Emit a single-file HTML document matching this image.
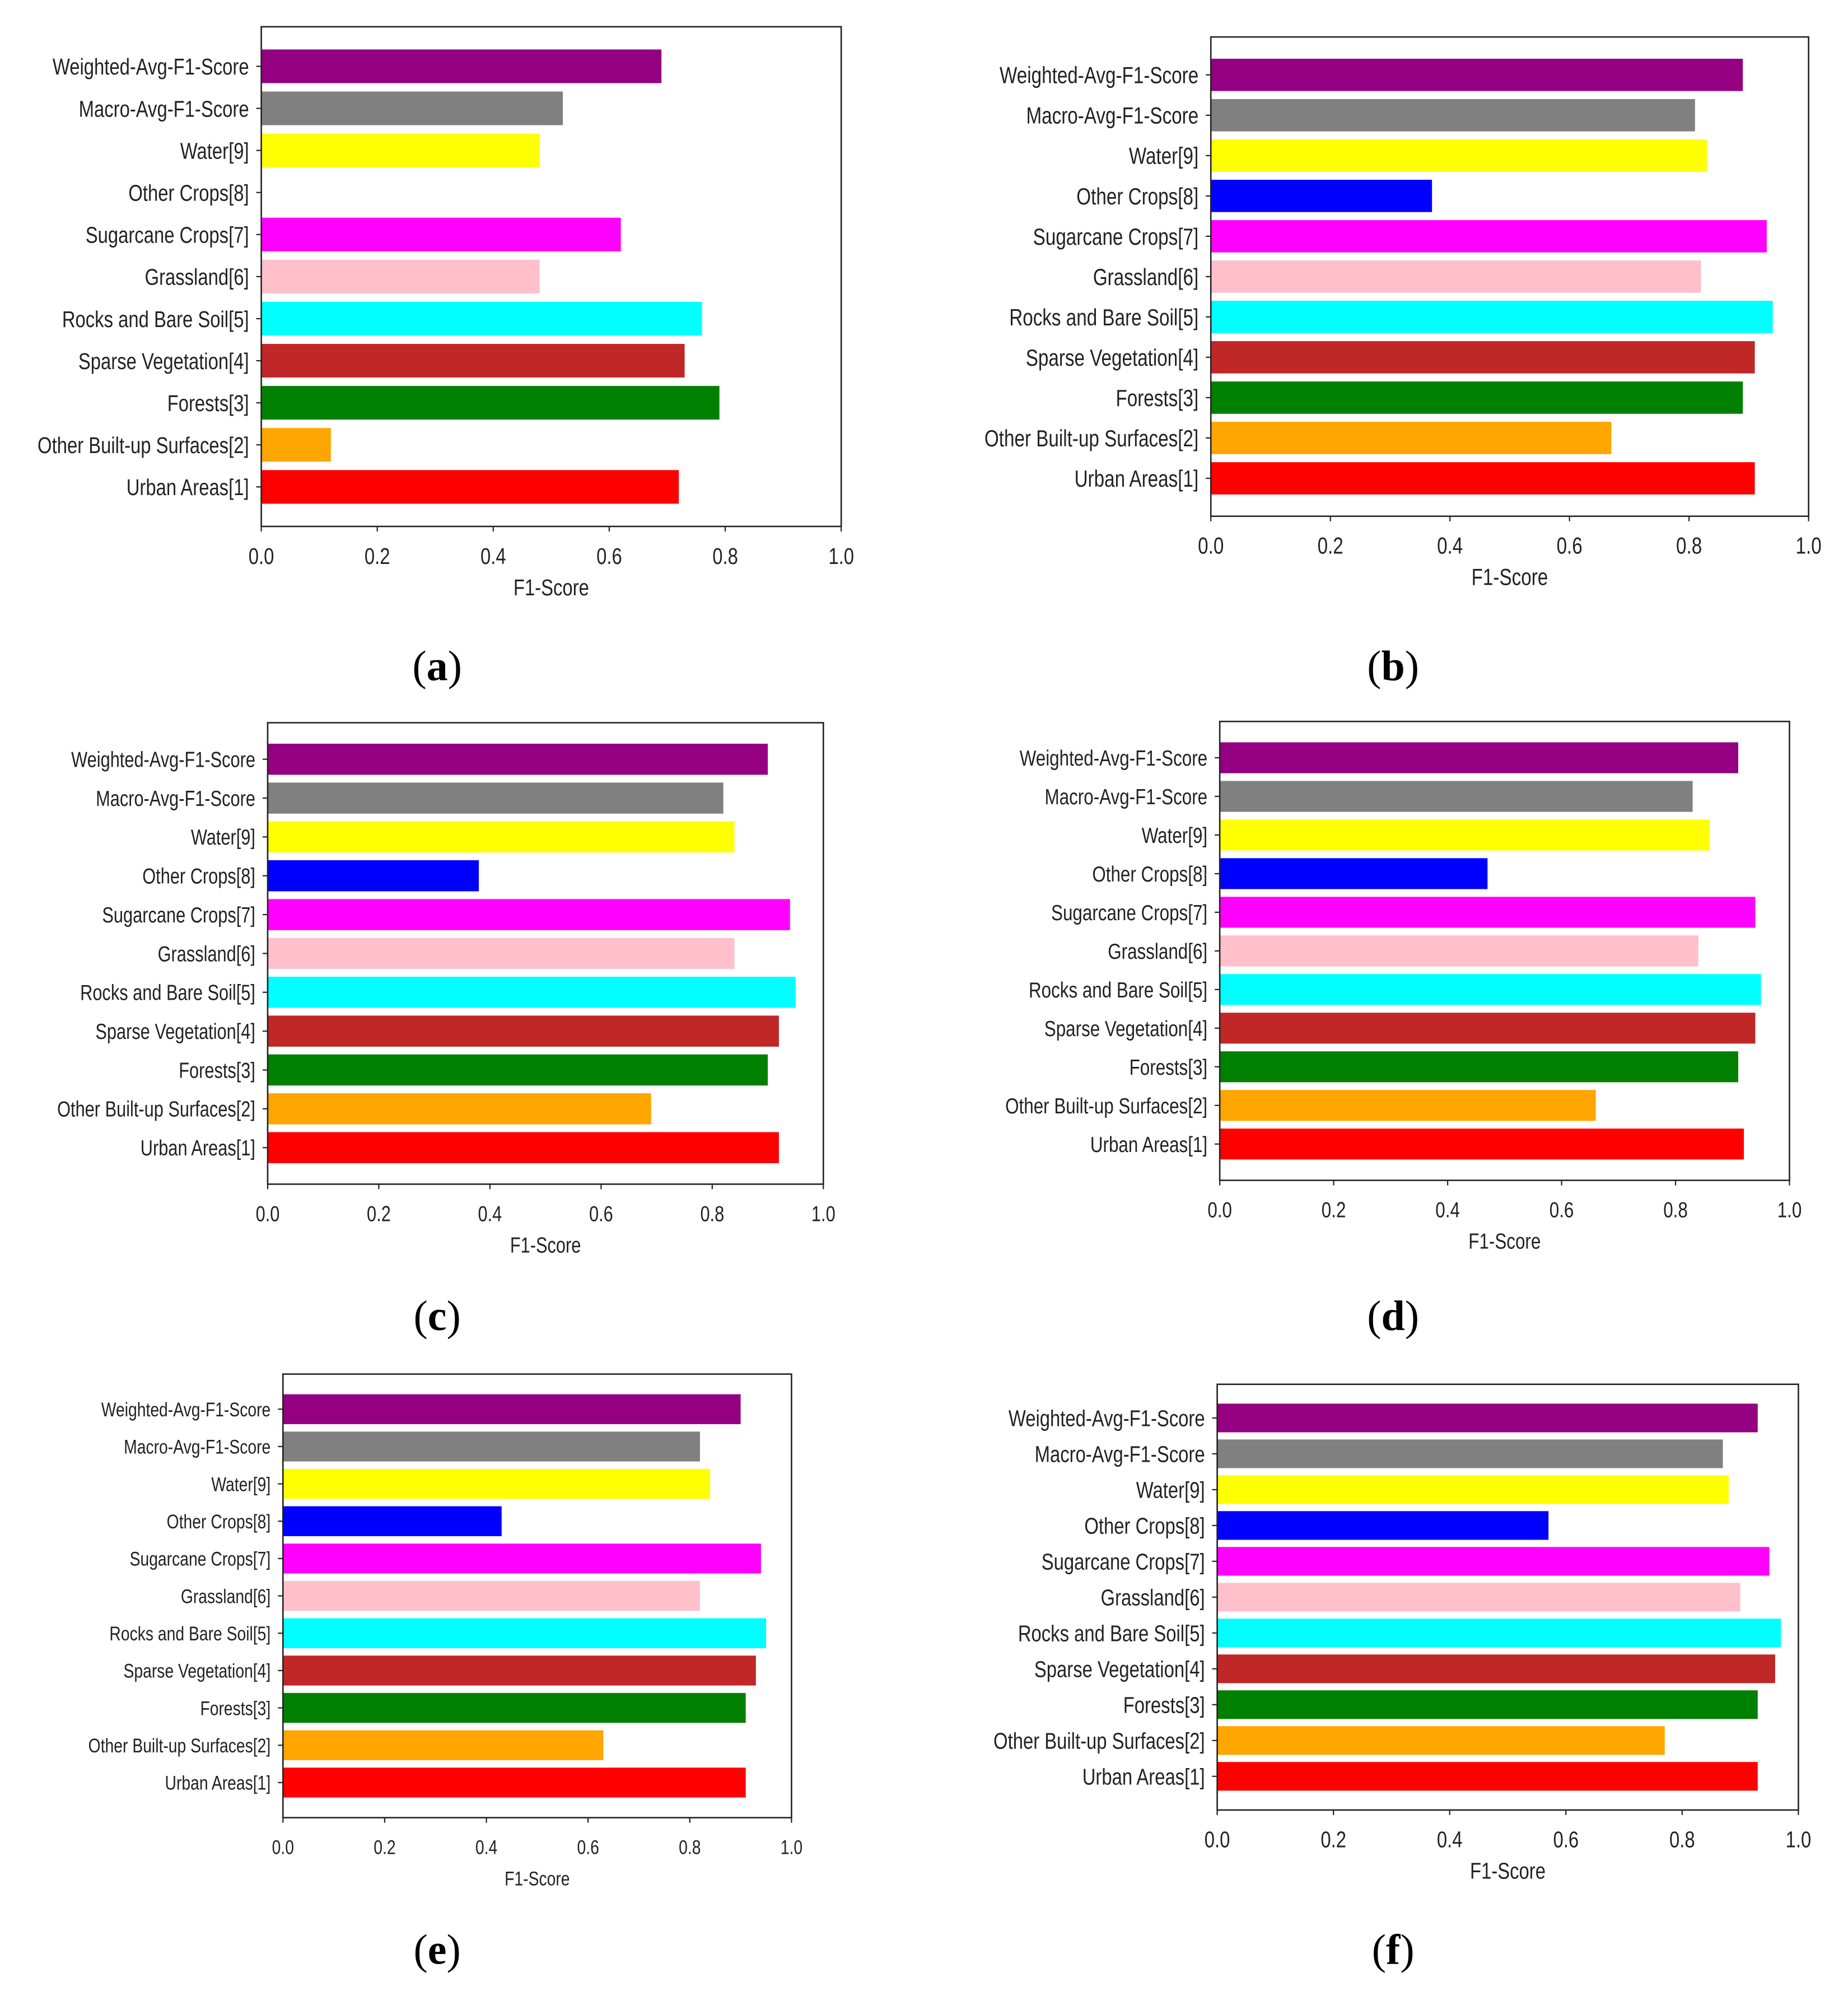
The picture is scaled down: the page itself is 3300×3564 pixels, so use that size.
<!DOCTYPE html>
<html><head><meta charset="utf-8"><style>
html,body{margin:0;padding:0;background:#fff;}
svg{display:block;}
</style></head><body>
<svg id="fig" width="3300" height="3564" viewBox="0 0 3300 3564" xmlns="http://www.w3.org/2000/svg"></svg>
<script>
const categories = ["Urban Areas[1]","Other Built-up Surfaces[2]","Forests[3]","Sparse Vegetation[4]","Rocks and Bare Soil[5]","Grassland[6]","Sugarcane Crops[7]","Other Crops[8]","Water[9]","Macro-Avg-F1-Score","Weighted-Avg-F1-Score"];
const barColors = ["#ff0000","#ffa500","#008000","#c02727","#00ffff","#ffc0cb","#ff00ff","#0000ff","#ffff00","#808080","#940081"];
const valuesA = [0.72,0.12,0.79,0.73,0.76,0.48,0.62,0.0,0.48,0.52,0.69];
const valuesB = [0.91,0.67,0.89,0.91,0.94,0.82,0.93,0.37,0.83,0.81,0.89];
const valuesC = [0.92,0.69,0.90,0.92,0.95,0.84,0.94,0.38,0.84,0.82,0.90];
const valuesD = [0.92,0.66,0.91,0.94,0.95,0.84,0.94,0.47,0.86,0.83,0.91];
const valuesE = [0.91,0.63,0.91,0.93,0.95,0.82,0.94,0.43,0.84,0.82,0.90];
const valuesF = [0.93,0.77,0.93,0.96,0.97,0.90,0.95,0.57,0.88,0.87,0.93];
const xTicks = [0,0.2,0.4,0.6,0.8,1.0];
const xTickLabels = ["0.0","0.2","0.4","0.6","0.8","1.0"];
const panelLetters = ["a","b","c","d","e","f"];

const S = 2.276;
const panels = [
  {vals:valuesA, l:205, r:660, t:21, b:413, lw:160, cx:343, cy:523},
  {vals:valuesB, l:950, r:1419, t:29, b:405, lw:162, cx:1093, cy:523},
  {vals:valuesC, l:210, r:646, t:567, b:929, lw:150, cx:343, cy:1033},
  {vals:valuesD, l:957, r:1404, t:566, b:926, lw:153, cx:1093, cy:1033},
  {vals:valuesE, l:222, r:621, t:1078, b:1426, lw:138, cx:343, cy:1530},
  {vals:valuesF, l:955, r:1411, t:1086, b:1420, lw:160, cx:1093, cy:1530}
];
const NS = "http://www.w3.org/2000/svg";
const svg = document.getElementById('fig');
function mk(tag, attrs, parent){const e=document.createElementNS(NS,tag);for(const k in attrs)e.setAttribute(k,attrs[k]);(parent||svg).appendChild(e);return e;}
const SX = 0.8;

panels.forEach((p,pi)=>{
  const L=p.l*S,R=p.r*S,T=p.t*S,B=p.b*S;
  const fs = 40*p.lw/156;
  const g = mk('g',{});
  
  
  const xScale = v => L + v*(R-L);
  const yMin=-0.94, yMax=10.94;
  const yScale = v => B - (v-yMin)/(yMax-yMin)*(B-T);
  const bh = 0.8*(B-T)/(yMax-yMin);
  p.vals.forEach((v,i)=>{
    const r = mk('rect',{x:xScale(0),y:yScale(i)-bh/2,width:Math.max(0,xScale(v)-xScale(0)),height:bh,fill:barColors[i]},g);
    
    
    mk('line',{x1:L-9,x2:L,y1:yScale(i),y2:yScale(i),stroke:'#222','stroke-width':2.2},g);
    const tg = mk('g',{transform:`translate(${L-22},${yScale(i)+fs*0.36}) scale(${SX},1)`},g);
    const t = mk('text',{x:0,y:0,'text-anchor':'end','font-size':fs,'font-family':'"Liberation Sans", sans-serif',fill:'#222'},tg);
    
    
    t.textContent = categories[i];
  });
  const f = mk('rect',{x:L,y:T,width:R-L,height:B-T,fill:'none',stroke:'#222','stroke-width':2.6},g);
  
  
  xTicks.forEach((v,i)=>{
    mk('line',{x1:xScale(v),x2:xScale(v),y1:B,y2:B+9,stroke:'#222','stroke-width':2.2},g);
    const tg = mk('g',{transform:`translate(${xScale(v)},${B+52+fs*0.36}) scale(${SX},1)`},g);
    const t = mk('text',{x:0,y:0,'text-anchor':'middle','font-size':fs,'font-family':'"Liberation Sans", sans-serif',fill:'#222'},tg);
    
    
    t.textContent = xTickLabels[i];
  });
  const xg = mk('g',{transform:`translate(${(L+R)/2},${B+108+fs*0.36}) scale(${SX},1)`},g);
  const xl = mk('text',{x:0,y:0,'text-anchor':'middle','font-size':fs,'font-family':'"Liberation Sans", sans-serif',fill:'#222'},xg);
  
  
  xl.textContent = 'F1-Score';
  const c = mk('text',{x:p.cx*S,y:p.cy*S+24,'text-anchor':'middle','font-size':76,'font-family':'"Liberation Serif", serif',fill:'#000'},g);
  
  
  c.innerHTML = '(<tspan font-weight="bold">'+panelLetters[pi]+'</tspan>)';
});
</script>
</body></html>
